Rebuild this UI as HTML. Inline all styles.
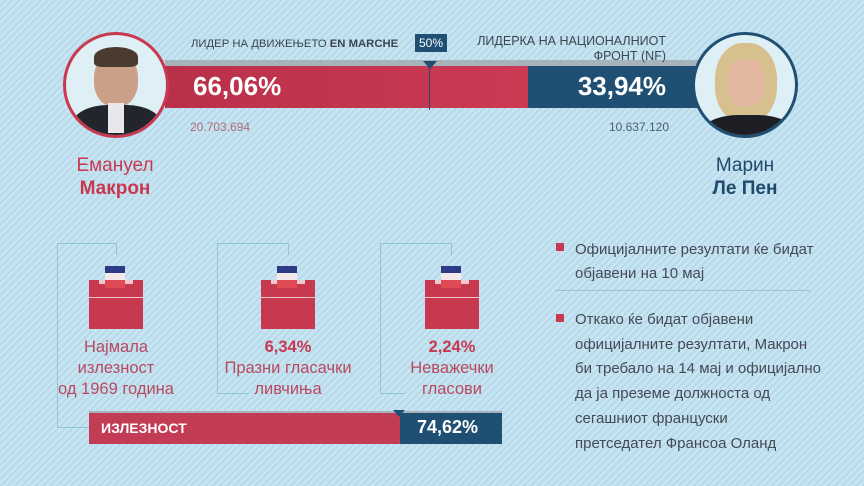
<!DOCTYPE html>
<html><head><meta charset="utf-8"><style>
*{margin:0;padding:0;box-sizing:border-box}
body{width:864px;height:486px;overflow:hidden;position:relative;font-family:"Liberation Sans","DejaVu Sans",sans-serif;
background:#c2e1ef repeating-linear-gradient(135deg,#c6e4f1 0 3px,#b7d9e9 3px 5px);}
.a{position:absolute;white-space:nowrap}
.c{text-align:center}
.l{position:absolute;background:#8ec6d6}
.box{position:absolute;width:54px;height:64px}
.sq{position:absolute;width:8px;height:8px;background:#c8384f}
.rt{position:absolute;left:575px;font-size:15px;color:#454a55;white-space:nowrap}
</style></head><body>
<!-- top bar -->
<div class="a" style="left:165px;top:60px;width:540px;height:6px;background:#a7b3bb"></div>
<div class="a" style="left:165px;top:66px;width:363px;height:42px;background:linear-gradient(90deg,#b9304a,#cc3a54)"></div>
<div class="a" style="left:528px;top:66px;width:175px;height:42px;background:#1f5073"></div>
<div class="a" style="left:429px;top:66px;width:1px;height:44px;background:#2a4b63"></div>
<div class="a" style="left:423px;top:61px;width:0;height:0;border-left:7px solid transparent;border-right:7px solid transparent;border-top:8px solid #1f5073"></div>
<div class="a" style="left:191px;top:38px;font-size:11.3px;color:#3c4650">ЛИДЕР НА ДВИЖЕЊЕТО <b>EN MARCHE</b></div>
<div class="a" style="left:415px;top:34px;width:32px;height:18px;background:#1f5073;color:#fff;font-size:12px;text-align:center;line-height:18px">50%</div>
<div class="a" style="right:198px;top:34px;font-size:12.5px;color:#3c4650;text-align:right;line-height:15px">ЛИДЕРКА НА НАЦИОНАЛНИОТ<br>ФРОНТ (NF)</div>
<div class="a" style="left:193px;top:71px;font-size:26px;font-weight:bold;color:#fff">66,06%</div>
<div class="a" style="right:198px;top:71px;font-size:26px;font-weight:bold;color:#fff">33,94%</div>
<div class="a" style="left:190px;top:120px;font-size:12px;color:#b06a78">20.703.694</div>
<div class="a" style="right:195px;top:120px;font-size:12px;color:#4f6170">10.637.120</div>
<!-- portraits -->
<div class="a" style="left:63px;top:32px;width:106px;height:106px;border-radius:50%;border:3px solid #c8384f;background:#dfeff6;overflow:hidden">
 <div class="a" style="left:28px;top:18px;width:44px;height:54px;border-radius:45%;background:#caa088"></div>
 <div class="a" style="left:28px;top:12px;width:44px;height:20px;border-radius:50% 50% 20% 20%;background:#4a3a30"></div>
 <div class="a" style="left:6px;top:70px;width:90px;height:50px;border-radius:40% 40% 0 0;background:#22262c"></div>
 <div class="a" style="left:42px;top:68px;width:16px;height:30px;background:#e8e8ec"></div>
</div>
<div class="a" style="left:692px;top:32px;width:106px;height:106px;border-radius:50%;border:3px solid #1f5073;background:#dfeff6;overflow:hidden">
 <div class="a" style="left:20px;top:8px;width:62px;height:80px;border-radius:45%;background:#d6c08e"></div>
 <div class="a" style="left:32px;top:24px;width:38px;height:48px;border-radius:45%;background:#e4b8a0"></div>
 <div class="a" style="left:8px;top:80px;width:90px;height:40px;border-radius:40% 40% 0 0;background:#1c1e24"></div>
</div>
<div class="a c" style="left:55px;width:120px;top:154px;font-size:19px;color:#c8384f;line-height:23px">Емануел<br><b>Макрон</b></div>
<div class="a c" style="left:685px;width:120px;top:154px;font-size:19px;color:#1f4a6a;line-height:23px">Марин<br><b>Ле Пен</b></div>
<!-- brackets -->
<div class="l" style="left:57px;top:243px;width:60px;height:1px"></div>
<div class="l" style="left:116px;top:243px;width:1px;height:12px"></div>
<div class="l" style="left:57px;top:243px;width:1px;height:185px"></div>
<div class="l" style="left:57px;top:427px;width:33px;height:1px"></div>
<div class="l" style="left:217px;top:243px;width:72px;height:1px"></div>
<div class="l" style="left:288px;top:243px;width:1px;height:12px"></div>
<div class="l" style="left:217px;top:243px;width:1px;height:150px"></div>
<div class="l" style="left:217px;top:393px;width:32px;height:1px"></div>
<div class="l" style="left:380px;top:243px;width:72px;height:1px"></div>
<div class="l" style="left:451px;top:243px;width:1px;height:12px"></div>
<div class="l" style="left:380px;top:243px;width:1px;height:150px"></div>
<div class="l" style="left:380px;top:393px;width:25px;height:1px"></div>
<!-- ballot boxes -->
<div class="box" style="left:89px;top:266px">
 <div class="a" style="left:16px;top:0;width:20px;height:7px;background:#2e3a86"></div>
 <div class="a" style="left:16px;top:7px;width:20px;height:7px;background:#f5e8ea"></div>
 <div class="a" style="left:0;top:14px;width:54px;height:17px;background:#c8384f"></div>
 <div class="a" style="left:10px;top:14px;width:34px;height:4px;background:#f0c8cf"></div>
 <div class="a" style="left:16px;top:14px;width:20px;height:8px;background:#e04a55"></div>
 <div class="a" style="left:0;top:31px;width:54px;height:1px;background:#f0c8cf"></div>
 <div class="a" style="left:0;top:32px;width:54px;height:31px;background:#c8384f"></div>
</div>
<div class="box" style="left:261px;top:266px">
 <div class="a" style="left:16px;top:0;width:20px;height:7px;background:#2e3a86"></div>
 <div class="a" style="left:16px;top:7px;width:20px;height:7px;background:#f5e8ea"></div>
 <div class="a" style="left:0;top:14px;width:54px;height:17px;background:#c8384f"></div>
 <div class="a" style="left:10px;top:14px;width:34px;height:4px;background:#f0c8cf"></div>
 <div class="a" style="left:16px;top:14px;width:20px;height:8px;background:#e04a55"></div>
 <div class="a" style="left:0;top:31px;width:54px;height:1px;background:#f0c8cf"></div>
 <div class="a" style="left:0;top:32px;width:54px;height:31px;background:#c8384f"></div>
</div>
<div class="box" style="left:425px;top:266px">
 <div class="a" style="left:16px;top:0;width:20px;height:7px;background:#2e3a86"></div>
 <div class="a" style="left:16px;top:7px;width:20px;height:7px;background:#f5e8ea"></div>
 <div class="a" style="left:0;top:14px;width:54px;height:17px;background:#c8384f"></div>
 <div class="a" style="left:10px;top:14px;width:34px;height:4px;background:#f0c8cf"></div>
 <div class="a" style="left:16px;top:14px;width:20px;height:8px;background:#e04a55"></div>
 <div class="a" style="left:0;top:31px;width:54px;height:1px;background:#f0c8cf"></div>
 <div class="a" style="left:0;top:32px;width:54px;height:31px;background:#c8384f"></div>
</div>
<div class="a c" style="left:56px;width:120px;top:337px;font-size:16.5px;color:#b84a60;line-height:21px">Најмала<br>излезност<br>од 1969 година</div>
<div class="a c" style="left:218px;width:140px;top:337px;font-size:16.5px;color:#b84a60;line-height:21px"><b style="color:#c8384f">6,34%</b><br>Празни гласачки<br>ливчиња</div>
<div class="a c" style="left:392px;width:120px;top:337px;font-size:16.5px;color:#b84a60;line-height:21px"><b style="color:#c8384f">2,24%</b><br>Неважечки<br>гласови</div>
<!-- turnout bar -->
<div class="a" style="left:89px;top:411px;width:413px;height:4px;background:#a7b3bb"></div>
<div class="a" style="left:89px;top:413px;width:311px;height:31px;background:#c33c56"></div>
<div class="a" style="left:400px;top:413px;width:102px;height:31px;background:#1f5073"></div>
<div class="a" style="left:393px;top:410px;width:0;height:0;border-left:6px solid transparent;border-right:6px solid transparent;border-top:7px solid #1f5073"></div>
<div class="a" style="left:101px;top:420px;font-size:14px;font-weight:bold;color:#fff">ИЗЛЕЗНОСТ</div>
<div class="a" style="left:417px;top:417px;font-size:18px;font-weight:bold;color:#fff">74,62%</div>
<!-- right notes -->
<div class="sq" style="left:556px;top:243px"></div>
<div class="rt" style="top:238px;line-height:24px">Официјалните резултати ќе бидат<br>објавени на 10 мај</div>
<div class="a" style="left:555px;top:290px;width:255px;height:1px;background:#9cc4d4"></div>
<div class="sq" style="left:556px;top:314px"></div>
<div class="rt" style="top:308px;line-height:24.7px">Откако ќе бидат објавени<br>официјалните резултати, Макрон<br>би требало на 14 мај и официјално<br>да ја преземе должноста од<br>сегашниот француски<br>претседател Франсоа Оланд</div>
</body></html>
